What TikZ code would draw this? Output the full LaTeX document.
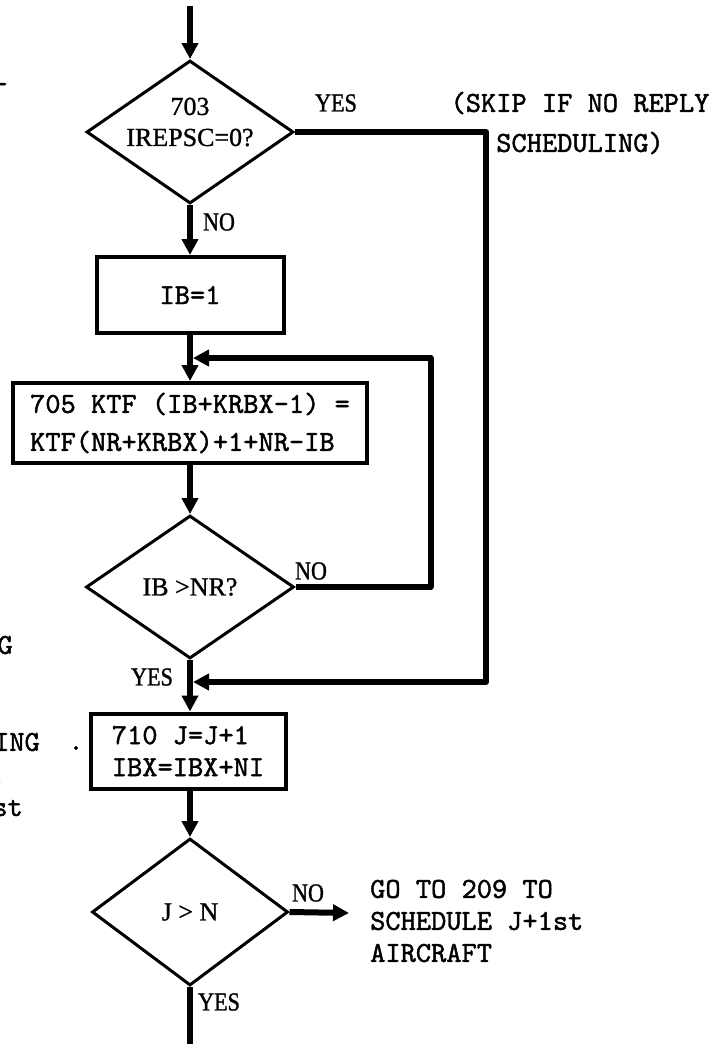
\documentclass[tikz,border=0pt]{standalone}
\usepackage{fontspec}
\newfontfamily\condfont{Liberation Serif}[FakeStretch=0.85, FakeBold=1.2]
\newfontfamily\romfont{Liberation Serif}[FakeBold=1]
\newfontfamily\typefont{lmmono10-regular.otf}[FakeBold=1.5]
\usetikzlibrary{
calc,
shapes.geometric,
arrows.meta
}

\begin{document}
\begin{tikzpicture}[x=1pt, y=-1pt, >={Triangle[width=16pt,length=16pt]},
  flow/.style={line width=6pt},
  dec/.style={diamond, draw, line width=3pt, inner sep=0pt},
  proc/.style={draw, line width=4pt, inner sep=0pt},
  tt/.style={inner sep=0pt, font=\fontsize{29}{32}\selectfont\typefont},
  rm/.style={inner sep=0pt, font=\fontsize{26}{31}\selectfont\romfont},
  yn/.style={inner sep=0pt, font=\fontsize{26}{30}\selectfont\condfont}]

\useasboundingbox (0,0) rectangle (716,1047);

% Decisions
\node[dec, minimum width=207pt, minimum height=143pt] (d703) at (190,132) {};
\node[rm, align=center] (t703) at (190,122) {703\\IREPSC=0?};
\node[dec, minimum width=208pt, minimum height=143pt, rm] (dIB) at (190,587) {IB >NR?};
\node[dec, minimum width=196pt, minimum height=147pt, rm] (dJ) at (190,912) {J > N};

% Boxes
\node[proc, minimum width=187pt, minimum height=76pt, tt] (bIB) at (190,295) {IB=1};
\node[proc, minimum width=354pt, minimum height=80pt, tt, align=left] (b705) at (190,423)
  {705 KTF (IB+KRBX-1) =\\[6pt]KTF(NR+KRBX)+1+NR-IB};
\node[proc, minimum width=195pt, minimum height=75pt, tt, align=left] (b710) at (188,751)
  {710 J=J+1\\IBX=IBX+NI};

% Branch labels
\node[yn] (yes703) at (336,103) {YES};
\node[yn] (no703) at (219,222) {NO};
\node[yn] (noIB) at (311,571) {NO};
\node[yn] (yesIB) at (152,677) {YES};
\node[yn] (noJ) at (308,893) {NO};
\node[yn] (yesJ) at (219,1002) {YES};

% Notes
\node[tt, align=center] (skip) at (580,123) {(SKIP IF NO REPLY\\[8pt]SCHEDULING)};
\node[tt, align=left, anchor=west] (goto) at (370,921)
  {GO TO 209 TO\\SCHEDULE J+1st\\AIRCRAFT};

% Cut-off text at left edge
\node[tt, anchor=east] (frag0) at (8,88) {-};
\node[tt, anchor=east] (frag1) at (13,645) {G};
\node[tt, anchor=east] (frag2) at (40,742) {ING};
\node[tt] (frag3) at (76,748) {.};
\node[tt, anchor=east] (frag4) at (6,782) {.};
\node[tt, anchor=east] (frag5) at (23,808) {st};

% Flow lines
\coordinate (start) at (190,6);
\coordinate (jloop) at (193,358);
\coordinate (jskip) at (193,682);
\coordinate (goend) at (349,913);
\coordinate (finish) at (190,1044);

\draw[flow,->] (start) -- (d703.north);
\draw[flow,->] (d703.south) -- (bIB.north);
\draw[flow,->] (bIB.south) -- (b705.north);
\draw[flow,->] (b705.south) -- (dIB.north);
\draw[flow,->] (dIB.south) -- (dIB.south |- b710.north);
\draw[flow,->] (b710.south -| dJ.north) -- (dJ.north);
\draw[flow] (dJ.south) -- (finish);
\draw[flow,->] (dJ.east) -- (goend);

% Loop back and skip
\draw[flow,->,line join=round] (dIB.east) -- ++(135,0) |- (jloop);
\draw[flow,->,line join=round] (d703.east) -- ++(191,0) |- (jskip);

\end{tikzpicture}
\end{document}
